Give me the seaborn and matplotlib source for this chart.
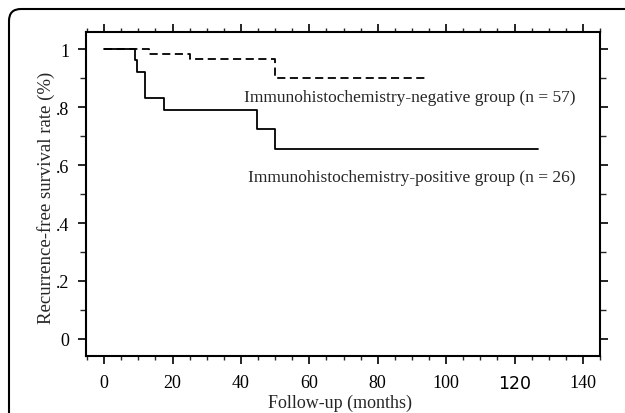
import numpy as np
import pandas as pd
import matplotlib
matplotlib.use("Agg")
import matplotlib.pyplot as plt
import seaborn as sns
from matplotlib.patches import FancyBboxPatch
from matplotlib.transforms import IdentityTransform
from matplotlib.ticker import MultipleLocator

# Kaplan-Meier step values
pos_months = [0, 9.0, 9.7, 12.0, 17.6, 44.8, 50.0, 126.8]
pos_surv = [1.0, 0.962, 0.923, 0.830, 0.790, 0.724, 0.655, 0.655]
neg_months = [0, 13.0, 25.0, 50.0, 94.7]
neg_surv = [1.0, 0.982, 0.965, 0.900, 0.900]

x_ticks = [0, 20, 40, 60, 80, 100, 120, 140]
y_ticks = [0, 0.2, 0.4, 0.6, 0.8, 1.0]
y_labels = ["0", ".2", ".4", ".6", ".8", "1"]

pos_label = "Immunohistochemistry-positive group (n = 26)"
neg_label = "Immunohistochemistry-negative group (n = 57)"

sns.set_style("ticks")
plt.rcParams["font.family"] = ["Liberation Serif", "DejaVu Serif"]

fig = plt.figure(figsize=(6.25, 4.14), dpi=100)
ax = fig.add_axes([0.1376, 0.1384, 0.8224, 0.7816])

pos_df = pd.DataFrame({"month": pos_months, "surv": pos_surv})
neg_df = pd.DataFrame({"month": neg_months, "surv": neg_surv})

sns.lineplot(data=pos_df, x="month", y="surv", ax=ax, estimator=None,
             drawstyle="steps-post", color="black", linewidth=1.3)
sns.lineplot(data=neg_df, x="month", y="surv", ax=ax, estimator=None,
             drawstyle="steps-post", color="black", linewidth=1.3,
             dashes=False, linestyle=(0, (4.5, 2.5)))

ax.text(41, 0.834, neg_label, fontsize=12.5, va="center", ha="left")
ax.text(42, 0.559, pos_label, fontsize=12.5, va="center", ha="left")

ax.set_xlim(-5.3, 145)
ax.set_ylim(-0.058, 1.059)
ax.set_xticks(x_ticks)
ax.set_yticks(y_ticks)
ax.set_yticklabels(y_labels)
ax.xaxis.set_minor_locator(MultipleLocator(5))
ax.yaxis.set_minor_locator(MultipleLocator(0.1))

ax.tick_params(axis="both", which="major", direction="out", length=6,
               width=1.2, labelsize=13, colors="black",
               top=True, right=True, labeltop=False, labelright=False)
ax.tick_params(axis="x", which="minor", direction="out", length=3,
               width=1.0, top=True, bottom=True)
ax.tick_params(axis="y", which="minor", direction="out", length=4,
               width=1.0, left=True, right=True)
ax.tick_params(axis="x", pad=7)
ax.tick_params(axis="y", pad=6)

# the "120" label is set in a sans face in the original
for lbl in ax.get_xticklabels():
    if lbl.get_text() == "120":
        lbl.set_family("DejaVu Sans")
        lbl.set_fontsize(12.5)

for side in ["left", "right", "top", "bottom"]:
    ax.spines[side].set_visible(True)
    ax.spines[side].set_linewidth(1.5)
    ax.spines[side].set_color("black")

ax.set_xlabel("Follow-up (months)", fontsize=13)
ax.set_ylabel("Recurrence-free survival rate (%)", fontsize=13.5)
ax.xaxis.set_label_coords(0.495, -0.117)
ax.yaxis.set_label_coords(-0.060, 0.49)

# rounded frame around the figure
frame = FancyBboxPatch((9, -30), 720, 434, boxstyle="round,pad=0,rounding_size=12",
                       transform=IdentityTransform(), fill=False,
                       edgecolor="black", linewidth=1.5)
fig.add_artist(frame)

fig.savefig("out.png", dpi=100)
